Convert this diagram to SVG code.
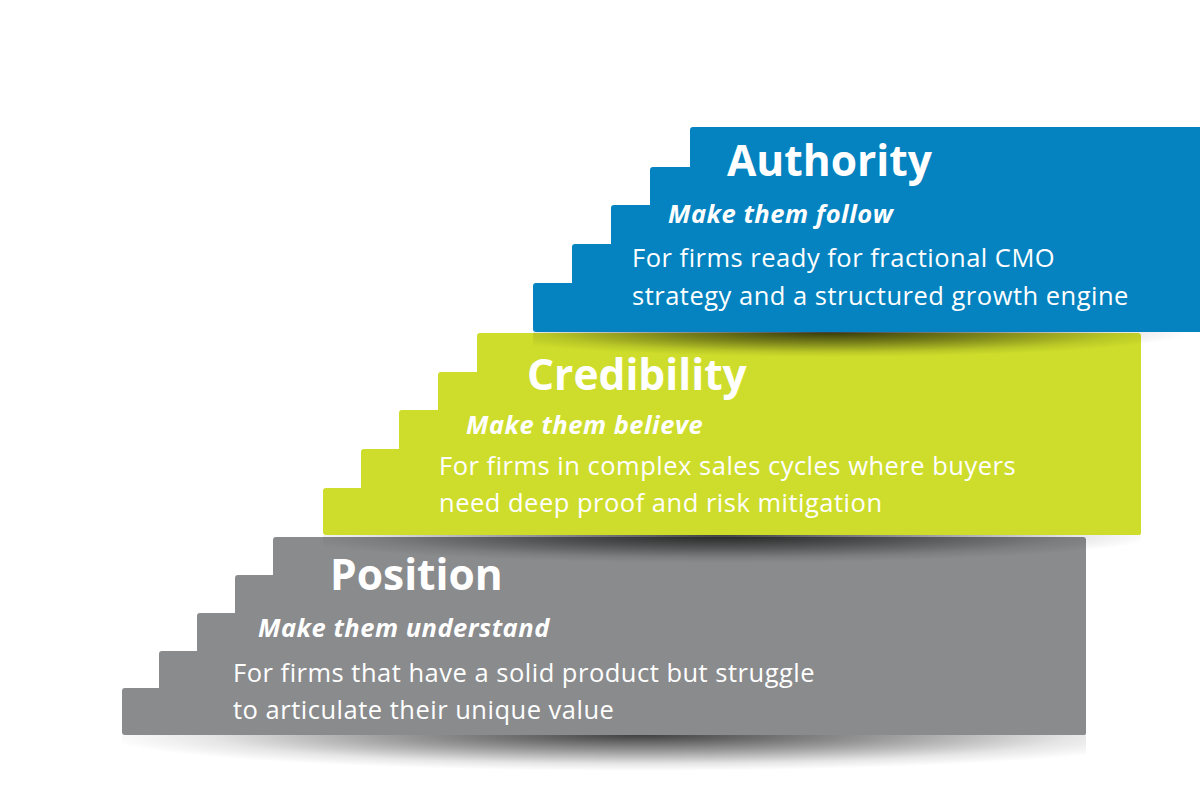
<svg xmlns="http://www.w3.org/2000/svg" width="1200" height="800" viewBox="0 0 1200 800">
  <defs>
    <radialGradient id="shadow" cx="0.5" cy="0.5" r="0.5">
      <stop offset="0" stop-color="#000" stop-opacity="0.75"/>
      <stop offset="0.45" stop-color="#000" stop-opacity="0.4"/>
      <stop offset="0.8" stop-color="#000" stop-opacity="0.1"/>
      <stop offset="1" stop-color="#000" stop-opacity="0"/>
    </radialGradient>
    <clipPath id="belowGray"><rect x="122" y="735" width="964" height="65"/></clipPath>
    <clipPath id="belowGreen"><rect x="323" y="535" width="818" height="60"/></clipPath>
    <clipPath id="belowBlue"><rect x="533" y="332" width="667" height="60"/></clipPath>
    <style>
      .blue { fill: #0483c0; }
      .green { fill: #cedd2b; }
      .gray { fill: #8a8b8d; }
      .title { font-family: "Open Sans", "Liberation Sans", sans-serif; font-weight: 700; font-size: 42.5px; fill: #fff; }
      .sub { font-family: "Open Sans", "Liberation Sans", sans-serif; font-weight: 700; font-style: italic; font-size: 25.5px; letter-spacing: 0.5px; fill: #fff; }
      .body { font-family: "Open Sans", "Liberation Sans", sans-serif; font-weight: 400; font-size: 25.5px; letter-spacing: 0.5px; fill: #fff; }
    </style>
  </defs>
  <rect width="1200" height="800" fill="#fff"/>

  <!-- shadow under Position -->
  <ellipse cx="640" cy="735" rx="540" ry="36" fill="url(#shadow)" clip-path="url(#belowGray)"/>

  <g id="position">
    <g class="gray">
      <rect x="273" y="537" width="813" height="198" rx="3"/>
      <rect x="235" y="575" width="851" height="160" rx="3"/>
      <rect x="197" y="613" width="889" height="122" rx="3"/>
      <rect x="159" y="651" width="927" height="84" rx="3"/>
      <rect x="122" y="688" width="964" height="47" rx="3"/>
    </g>
    <text class="title" x="330" y="590">Position</text>
    <text class="sub" x="258" y="637">Make them understand</text>
    <text class="body" x="233" y="682">For firms that have a solid product but struggle</text>
    <text class="body" x="233" y="719">to articulate their unique value</text>
  </g>

  <!-- shadow under Credibility -->
  <ellipse cx="720" cy="535" rx="440" ry="28" fill="url(#shadow)" clip-path="url(#belowGreen)"/>

  <g id="credibility">
    <g class="green">
      <rect x="477" y="333" width="664" height="202" rx="3"/>
      <rect x="438" y="372" width="703" height="163" rx="3"/>
      <rect x="399" y="410" width="742" height="125" rx="3"/>
      <rect x="361" y="449" width="780" height="86" rx="3"/>
      <rect x="323" y="488" width="818" height="47" rx="3"/>
    </g>
    <text class="title" x="527" y="390">Credibility</text>
    <text class="sub" x="466" y="434">Make them believe</text>
    <text class="body" x="439" y="475">For firms in complex sales cycles where buyers</text>
    <text class="body" x="439" y="512">need deep proof and risk mitigation</text>
  </g>

  <!-- shadow under Authority -->
  <ellipse cx="830" cy="332" rx="360" ry="25" fill="url(#shadow)" clip-path="url(#belowBlue)"/>

  <g id="authority">
    <g class="blue">
      <rect x="690" y="127" width="520" height="205" rx="3"/>
      <rect x="650" y="167" width="560" height="165" rx="3"/>
      <rect x="611" y="205" width="599" height="127" rx="3"/>
      <rect x="572" y="244" width="638" height="88" rx="3"/>
      <rect x="533" y="283" width="677" height="49" rx="3"/>
    </g>
    <text class="title" x="727" y="176">Authority</text>
    <text class="sub" x="668" y="223">Make them follow</text>
    <text class="body" x="632" y="267">For firms ready for fractional CMO</text>
    <text class="body" x="632" y="305">strategy and a structured growth engine</text>
  </g>
</svg>
